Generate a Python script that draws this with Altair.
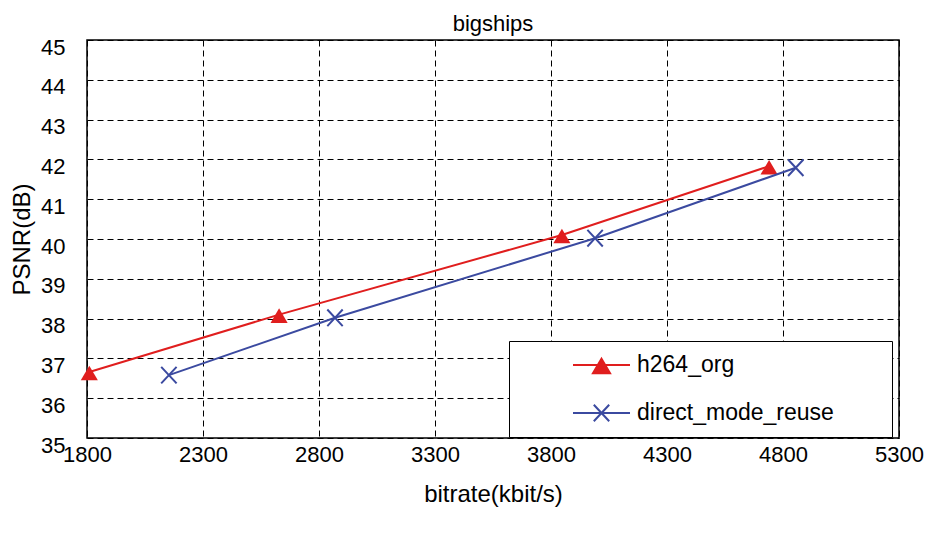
import altair as alt
import pandas as pd

series_names = ["h264_org", "direct_mode_reuse"]
h264_bitrate = [1810, 2628, 3847, 4740]
h264_psnr = [36.66, 38.10, 40.10, 41.83]
dmr_bitrate = [2153, 2869, 3990, 4855]
dmr_psnr = [36.58, 38.02, 40.02, 41.79]
x_ticks = [1800, 2300, 2800, 3300, 3800, 4300, 4800, 5300]
y_ticks = [35, 36, 37, 38, 39, 40, 41, 42, 43, 44, 45]

RED = "#e01e1e"
BLUE = "#3b4aa0"
FONT = "Liberation Sans"

df = pd.DataFrame({
    "series": [series_names[0]] * len(h264_bitrate) + [series_names[1]] * len(dmr_bitrate),
    "bitrate": h264_bitrate + dmr_bitrate,
    "psnr": h264_psnr + dmr_psnr,
})

TRI = "M0,-0.22L0.3,0.29L-0.3,0.29Z"
XX = "M-0.27,-0.29L0.27,0.29M-0.27,0.29L0.27,-0.29"
LEG_TRI = "M-1,0L1,0" + TRI
LEG_XX = "M-1,0L1,0" + XX
SZ = 3249

xenc = alt.X("bitrate:Q", scale=alt.Scale(domain=[1800, 5300], nice=False),
             axis=alt.Axis(values=x_ticks, title="bitrate(kbit/s)", format="d"))
yenc = alt.Y("psnr:Q", scale=alt.Scale(domain=[35, 45], nice=False, zero=False),
             axis=alt.Axis(values=y_ticks, title="PSNR(dB)"))

base = alt.Chart(df)

def series_layers(name, color, path, filled):
    sub = base.transform_filter(alt.datum.series == name)
    line = sub.mark_line(color=color, strokeWidth=2).encode(x=xenc, y=yenc)
    pts = sub.mark_point(shape=path, size=SZ, filled=filled, color=color,
                         opacity=1, strokeWidth=2).encode(x=xenc, y=yenc)
    return [line, pts]

cscale = alt.Scale(domain=series_names, range=[RED, BLUE])
legend_layer = base.transform_filter("false").mark_point(
    filled=True, opacity=1, strokeWidth=2
).encode(
    x=xenc, y=yenc,
    fill=alt.Fill("series:N", scale=cscale,
                  legend=alt.Legend(orient="none", legendX=422, legendY=301, title=" ",
                                    titleOrient="right", titlePadding=58, titleFontSize=1,
                                    padding=0, strokeColor="black", fillColor="white",
                                    symbolOffset=63, labelOffset=6, clipHeight=48,
                                    rowPadding=0, labelFontSize=23, labelFont=FONT,
                                    labelColor="black", symbolSize=SZ, labelLimit=400,
                                    symbolStrokeWidth=2, cornerRadius=0)),
    stroke=alt.Stroke("series:N", scale=cscale),
    shape=alt.Shape("series:N", scale=alt.Scale(domain=series_names, range=[LEG_TRI, LEG_XX])),
)

layers = series_layers(series_names[0], RED, TRI, True) + \
    series_layers(series_names[1], BLUE, XX, False) + [legend_layer]

chart = alt.layer(*layers).properties(
    width=812, height=398,
    title=alt.Title("bigships", fontSize=22, font=FONT, fontWeight="normal", color="black", offset=0),
    autosize=alt.AutoSizeParams(type="none"),
    padding={"left": 79, "top": 32, "right": 29, "bottom": 80},
).configure_view(
    stroke="black", strokeWidth=1.5, fill="white"
).configure_axis(
    grid=True, gridColor="black", gridDash=[6, 4], gridWidth=1, gridOpacity=1,
    domain=False, ticks=False, labelFont=FONT, labelFontSize=22, labelColor="black",
    labelFlush=False, labelOverlap=False,
    titleFont=FONT, titleFontSize=24, titleFontWeight="normal", titleColor="black",
).configure_axisX(
    labelPadding=6, titlePadding=17
).configure_axisY(
    labelPadding=22, titlePadding=6, labelOffset=7
)

chart.save("out.html", embed_options={"renderer": "svg", "actions": False})
